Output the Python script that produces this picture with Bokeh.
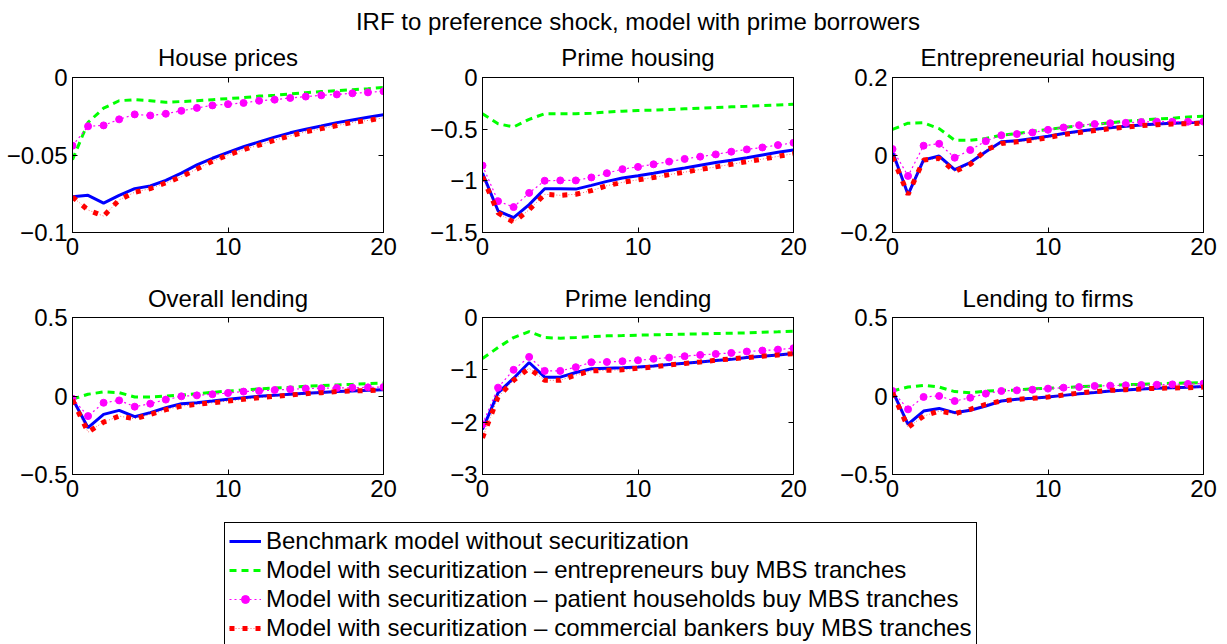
from bokeh.plotting import figure
from bokeh.layouts import column, row
from bokeh.models import (FixedTicker, LinearAxis, Title, Legend, LegendItem,
                          Range1d, ColumnDataSource)
from bokeh.embed import file_html
from bokeh.resources import INLINE

FONT = "Liberation Sans"

# ---------------- data ----------------
steps = list(range(21))

series_names = [
    "Benchmark model without securitization",
    "Model with securitization \u2013 entrepreneurs buy MBS tranches",
    "Model with securitization \u2013 patient households buy MBS tranches",
    "Model with securitization \u2013 commercial bankers buy MBS tranches",
]

panel_titles = ["House prices", "Prime housing", "Entrepreneurial housing",
                "Overall lending", "Prime lending", "Lending to firms"]
main_title = "IRF to preference shock, model with prime borrowers"

x_ticks = [0, 10, 20]
x_tick_labels = ["0", "10", "20"]

y_limits = [(-0.1, 0), (-1.5, 0), (-0.2, 0.2), (-0.5, 0.5), (-3, 0), (-0.5, 0.5)]
y_ticks = [[-0.1, -0.05, 0], [-1.5, -1, -0.5, 0], [-0.2, 0, 0.2],
           [-0.5, 0, 0.5], [-3, -2, -1, 0], [-0.5, 0, 0.5]]
y_tick_labels = [["\u22120.1", "\u22120.05", "0"],
                 ["\u22121.5", "\u22121", "\u22120.5", "0"],
                 ["\u22120.2", "0", "0.2"],
                 ["\u22120.5", "0", "0.5"],
                 ["\u22123", "\u22122", "\u22121", "0"],
                 ["\u22120.5", "0", "0.5"]]

# House prices
hp_bench = [-0.077, -0.076, -0.081, -0.076, -0.0717, -0.070, -0.0664, -0.0617, -0.0564, -0.0521, -0.0483,
            -0.0447, -0.0415, -0.0385, -0.0357, -0.0334, -0.0313, -0.0291, -0.0274, -0.0257, -0.024]
hp_ent = [-0.053, -0.029, -0.0198, -0.015, -0.0143, -0.015, -0.016, -0.0155, -0.015, -0.0143, -0.0136,
          -0.013, -0.012, -0.0115, -0.0106, -0.0098, -0.0091, -0.0085, -0.0079, -0.0072, -0.0064]
hp_pat = [-0.044, -0.0315, -0.0309, -0.027, -0.0238, -0.0245, -0.0234, -0.0215, -0.0196, -0.018, -0.0172,
          -0.0164, -0.015, -0.0143, -0.0132, -0.0123, -0.0115, -0.0109, -0.0102, -0.0096, -0.0089]
hp_com = [-0.077, -0.0855, -0.0894, -0.079, -0.074, -0.0717, -0.068, -0.064, -0.059, -0.054, -0.050,
          -0.0465, -0.0436, -0.0404, -0.0377, -0.035, -0.033, -0.031, -0.029, -0.0277, -0.026]

# Prime housing
ph_bench = [-0.926, -1.29, -1.357, -1.23, -1.076, -1.076, -1.08, -1.044, -1.005, -0.973, -0.951,
            -0.926, -0.90, -0.875, -0.849, -0.823, -0.801, -0.776, -0.75, -0.724, -0.702]
ph_ent = [-0.351, -0.447, -0.479, -0.405, -0.351, -0.351, -0.351, -0.345, -0.335, -0.326, -0.319,
          -0.316, -0.31, -0.303, -0.297, -0.29, -0.284, -0.278, -0.271, -0.265, -0.258]
ph_pat = [-0.852, -1.197, -1.254, -1.117, -0.999, -0.996, -0.996, -0.967, -0.926, -0.887, -0.865,
          -0.84, -0.814, -0.788, -0.766, -0.744, -0.718, -0.696, -0.677, -0.654, -0.632]
ph_com = [-0.96, -1.31, -1.40, -1.28, -1.13, -1.14, -1.13, -1.095, -1.047, -1.015, -0.99,
          -0.967, -0.94, -0.916, -0.89, -0.865, -0.84, -0.814, -0.79, -0.763, -0.737]

# Entrepreneurial housing
eh_bench = [0.0085, -0.102, -0.0128, -0.0026, -0.038, -0.0196, 0.0085, 0.034, 0.0366, 0.0426, 0.0485,
            0.0553, 0.0613, 0.0664, 0.0706, 0.074, 0.0774, 0.080, 0.0817, 0.0834, 0.085]
eh_ent = [0.066, 0.082, 0.083, 0.068, 0.038, 0.038, 0.0426, 0.051, 0.055, 0.061, 0.066,
          0.071, 0.075, 0.079, 0.083, 0.087, 0.090, 0.093, 0.095, 0.098, 0.100]
eh_pat = [0.0153, -0.054, 0.024, 0.029, -0.007, 0.0128, 0.0357, 0.051, 0.054, 0.058, 0.065,
          0.071, 0.077, 0.080, 0.082, 0.083, 0.085, 0.086, 0.086, 0.086, 0.086]
eh_com = [-0.005, -0.102, -0.013, -0.0085, -0.0426, -0.024, 0.0128, 0.0298, 0.034, 0.038, 0.045,
          0.053, 0.058, 0.063, 0.068, 0.072, 0.076, 0.078, 0.080, 0.081, 0.082]

# Overall lending
ol_bench = [-0.017, -0.202, -0.117, -0.0915, -0.132, -0.106, -0.074, -0.049, -0.0426, -0.032, -0.021,
            -0.011, -0.002, 0.004, 0.011, 0.017, 0.023, 0.028, 0.032, 0.036, 0.040]
ol_ent = [-0.02, 0.011, 0.026, 0.021, -0.006, -0.006, 0.0, 0.006, 0.015, 0.023, 0.032,
          0.038, 0.045, 0.051, 0.055, 0.062, 0.066, 0.070, 0.074, 0.079, 0.083]
ol_pat = [-0.017, -0.128, -0.043, -0.028, -0.068, -0.049, -0.023, -0.002, 0.004, 0.011, 0.019,
          0.028, 0.032, 0.038, 0.043, 0.047, 0.049, 0.051, 0.053, 0.055, 0.057]
ol_com = [-0.025, -0.23, -0.166, -0.128, -0.145, -0.117, -0.087, -0.064, -0.053, -0.043, -0.032,
          -0.021, -0.011, -0.002, 0.006, 0.015, 0.021, 0.028, 0.032, 0.034, 0.038]

# Prime lending
pl_bench = [-2.14, -1.44, -1.16, -0.86, -1.14, -1.14, -1.05, -0.98, -0.97, -0.96, -0.945,
            -0.925, -0.90, -0.875, -0.85, -0.823, -0.80, -0.766, -0.74, -0.715, -0.69]
pl_ent = [-0.785, -0.574, -0.383, -0.268, -0.383, -0.396, -0.383, -0.364, -0.351, -0.345, -0.338,
          -0.332, -0.325, -0.319, -0.313, -0.306, -0.30, -0.294, -0.281, -0.274, -0.262]
pl_pat = [-2.04, -1.34, -1.0, -0.753, -1.02, -1.02, -0.95, -0.855, -0.85, -0.836, -0.817,
          -0.79, -0.766, -0.74, -0.715, -0.696, -0.677, -0.65, -0.632, -0.613, -0.587]
pl_com = [-2.3, -1.52, -1.2, -0.97, -1.2, -1.2, -1.1, -1.02, -1.01, -1.0, -0.97,
          -0.945, -0.906, -0.88, -0.85, -0.817, -0.79, -0.766, -0.74, -0.715, -0.69]

# Lending to firms
lf_bench = [0.032, -0.18, -0.096, -0.079, -0.106, -0.091, -0.064, -0.032, -0.021, -0.015, -0.006,
            0.004, 0.015, 0.023, 0.032, 0.038, 0.045, 0.049, 0.053, 0.055, 0.060]
lf_ent = [0.032, 0.057, 0.068, 0.057, 0.028, 0.021, 0.032, 0.036, 0.038, 0.045, 0.049,
          0.053, 0.060, 0.064, 0.068, 0.072, 0.074, 0.077, 0.081, 0.083, 0.085]
lf_pat = [0.032, -0.085, -0.006, 0.0, -0.032, -0.011, 0.015, 0.032, 0.036, 0.040, 0.047,
          0.053, 0.057, 0.064, 0.066, 0.068, 0.070, 0.072, 0.074, 0.077, 0.079]
lf_com = [0.02, -0.20, -0.128, -0.096, -0.113, -0.085, -0.053, -0.032, -0.021, -0.015, -0.006,
          0.006, 0.019, 0.028, 0.036, 0.040, 0.045, 0.049, 0.051, 0.053, 0.057]

panel_data = [
    (hp_bench, hp_ent, hp_pat, hp_com),
    (ph_bench, ph_ent, ph_pat, ph_com),
    (eh_bench, eh_ent, eh_pat, eh_com),
    (ol_bench, ol_ent, ol_pat, ol_com),
    (pl_bench, pl_ent, pl_pat, pl_com),
    (lf_bench, lf_ent, lf_pat, lf_com),
]

# ---------------- styles ----------------
BLUE = "#0000ff"
GREEN = "#00ff00"
MAGENTA = "#ff00ff"
RED = "#ff0000"


def draw_series(p, src):
    rs = {}
    rs["bench"] = [p.line("x", "bench", source=src, line_color=BLUE, line_width=3)]
    rs["ent"] = [p.line("x", "ent", source=src, line_color=GREEN, line_width=3, line_dash="7 5")]
    rs["pat"] = [p.line("x", "pat", source=src, line_color=MAGENTA, line_width=1.2, line_dash="2 3"),
                 p.scatter("x", "pat", source=src, marker="circle", size=7,
                           fill_color=MAGENTA, line_color=MAGENTA)]
    rs["com"] = [p.line("x", "com", source=src, line_color=RED, line_width=1, line_dash="1 2", line_alpha=0.6),
                 p.line("x", "com", source=src, line_color=RED, line_width=5, line_dash="5 8")]
    return rs


def style_axis(ax, ticks, labels, show):
    ax.ticker = FixedTicker(ticks=ticks, minor_ticks=[])
    ax.major_tick_in = 5
    ax.major_tick_out = 0
    ax.minor_tick_in = 0
    ax.minor_tick_out = 0
    ax.axis_line_color = "black"
    ax.major_tick_line_color = "black"
    if show:
        ax.major_label_overrides = dict(zip(ticks, labels))
        ax.major_label_text_font = FONT
        ax.major_label_text_font_size = "24px"
        ax.major_label_text_color = "black"
        ax.major_label_standoff = 5
    else:
        ax.major_label_overrides = {t: "" for t in ticks}
        ax.major_label_text_font_size = "0px"
        ax.major_label_standoff = 0


def make_panel(i, width, height, left, top, bottom, right, title_standoff):
    lo, hi = y_limits[i]
    p = figure(width=width, height=height, x_range=Range1d(0, 20), y_range=Range1d(lo, hi),
               x_axis_type=None, y_axis_type=None, title=None,
               output_backend="svg", toolbar_location=None,
               min_border_left=left, min_border_right=right,
               min_border_top=top, min_border_bottom=bottom,
               background_fill_color="white", border_fill_color="white",
               outline_line_color="black", outline_line_width=1)
    top_ax = LinearAxis()
    style_axis(top_ax, x_ticks, x_tick_labels, False)
    p.add_layout(top_ax, "above")
    bot_ax = LinearAxis()
    style_axis(bot_ax, x_ticks, x_tick_labels, True)
    p.add_layout(bot_ax, "below")
    left_ax = LinearAxis()
    style_axis(left_ax, y_ticks[i], y_tick_labels[i], True)
    p.add_layout(left_ax, "left")
    right_ax = LinearAxis()
    style_axis(right_ax, y_ticks[i], y_tick_labels[i], False)
    p.add_layout(right_ax, "right")
    p.add_layout(Title(text=panel_titles[i], align="center", text_font=FONT,
                       text_font_size="24px", text_font_style="normal",
                       text_color="black", standoff=title_standoff), "above")
    b, e, pt, c = panel_data[i]
    src = ColumnDataSource(dict(x=steps, bench=b, ent=e, pat=pt, com=c))
    draw_series(p, src)
    return p


W1, W2, W3 = 418, 410, 399
TOTAL_W = W1 + W2 + W3
STRIP_LEFT = 224
STRIP_RIGHT = 176   # strip frames span 224..1051, centred on the middle column

# overall title strip
tf = figure(width=TOTAL_W, height=35, x_range=Range1d(0, 1), y_range=Range1d(0, 1),
            x_axis_type=None, y_axis_type=None, title=None,
            output_backend="svg", toolbar_location=None,
            min_border_left=STRIP_LEFT, min_border_right=STRIP_RIGHT,
            min_border_top=34, min_border_bottom=0,
            outline_line_color=None, background_fill_color="white", border_fill_color="white")
tf.add_layout(Title(text=main_title, align="center", text_font=FONT,
                    text_font_size="24px", text_font_style="normal",
                    text_color="black", standoff=0), "above")

p1 = make_panel(0, W1, 240, 72, 40, 43, 35, 13)
p2 = make_panel(1, W2, 240, 64, 40, 43, 35, 13)
p3 = make_panel(2, W3, 240, 64, 40, 43, 24, 13)
p4 = make_panel(3, W1, 240, 72, 42, 41, 35, 12)
p5 = make_panel(4, W2, 240, 64, 42, 41, 35, 12)
p6 = make_panel(5, W3, 240, 64, 42, 41, 24, 12)

# ---------------- legend ----------------
lg = figure(width=TOTAL_W, height=129, x_range=Range1d(0, 1), y_range=Range1d(0, 1),
            x_axis_type=None, y_axis_type=None, title=None,
            output_backend="svg", toolbar_location=None,
            min_border_left=STRIP_LEFT, min_border_top=7, min_border_right=STRIP_RIGHT,
            min_border_bottom=0,
            outline_line_color=None, background_fill_color="white", border_fill_color="white")
offscreen = ColumnDataSource(dict(x=[-5, -4], bench=[-5, -4], ent=[-5, -4], pat=[-5, -4], com=[-5, -4]))
rs = draw_series(lg, offscreen)
items = [LegendItem(label=series_names[0], renderers=rs["bench"]),
         LegendItem(label=series_names[1], renderers=rs["ent"]),
         LegendItem(label=series_names[2], renderers=rs["pat"]),
         LegendItem(label=series_names[3], renderers=rs["com"])]
legend = Legend(items=items, location="top_left",
                label_text_font=FONT, label_text_font_size="24px", label_text_color="black",
                glyph_width=32, glyph_height=20, label_standoff=5, label_height=20,
                spacing=1, padding=4, margin=0,
                border_line_color="black", border_line_width=1, border_line_alpha=1.0,
                background_fill_color="white", background_fill_alpha=1.0)
lg.add_layout(legend, "center")

layout = column(tf, row(p1, p2, p3), row(p4, p5, p6), lg)

open("out.html", "w").write(file_html(layout, INLINE))
